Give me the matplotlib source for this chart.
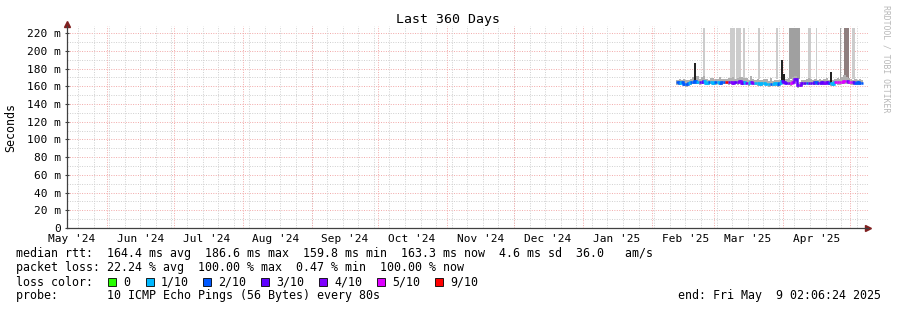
import datetime as dt
import matplotlib
matplotlib.use('Agg')
import matplotlib.pyplot as plt
import matplotlib.dates as mdates
from matplotlib.patches import Rectangle

# time range of the graph
graph_start = dt.datetime(2024, 5, 14, 2, 6, 24)
graph_end = dt.datetime(2025, 5, 9, 2, 6, 24)
data_start = dt.datetime(2025, 2, 12)

# daily median rtt in ms (Feb 12 .. May 6 2025)
medians = [
    164.5, 164, 164.5, 163, 162.5, 164, 164.5, 165, 166, 165, 164.5, 165, 166, 164, 164.5, 165, 164,
    164.5, 165, 164, 164.5, 164.5, 165, 164.5, 165, 164, 165, 164.5, 166, 164, 165, 164, 163.5,
    165, 164, 164, 163.5, 163, 163.5, 164, 163, 162.5, 163, 162, 163.5, 162, 163.5, 166,
    165, 164, 164, 163.5, 165, 168, 161, 161.5, 163.5, 164, 164, 164, 164, 164, 164.5, 164,
    164, 164.5, 164, 164.5, 164, 163.5, 163, 164.5, 164.5, 164.5, 165, 165.5, 166, 165,
    164.5, 164.5, 164, 164.5, 164, 164,
]
# loss class per day, index into loss_labels
loss_class = [
    2, 1, 2, 2, 2, 1, 2, 2, 2, 1, 3, 3, 1, 1, 2, 1, 1,
    2, 1, 2, 2, 2, 6, 3, 4, 4, 3, 4, 4, 3, 1, 4, 1, 4, 4, 1, 1, 1, 1, 1, 1, 1, 2, 1, 1, 2, 1, 3,
    3, 3, 4, 5, 4, 3, 4, 4, 3, 3, 2, 3, 3, 3, 2, 3, 3, 3, 4, 3, 2, 1, 1, 5, 5, 5, 5, 5, 4, 5,
    5, 3, 2, 2, 2, 2,
]
# smoke spread above / below the median (ms)
smoke_up = [
    3, 4, 3, 5, 4, 3, 4, 6, 20, 7, 4, 5, 6, 4, 3, 4, 5,
    4, 3, 7, 4, 4, 3, 5, 4, 6, 3, 5, 4, 7, 4, 5, 4, 7, 4, 3, 5, 4, 3, 4, 5, 3, 6, 4, 3, 5, 4, 24,
    9, 4, 5, 3, 5, 4, 3, 3, 4, 3, 4, 5, 4, 3, 4, 3, 4, 3, 4, 5, 3, 13, 4, 4, 5, 4, 6, 7, 5, 4,
    4, 3, 4, 3, 4, 3,
]
smoke_down = [
    3, 3, 2, 3, 3, 2, 3, 3, 3, 2, 3, 3, 2, 3, 3, 2, 3,
    3, 2, 3, 3, 2, 3, 3, 2, 3, 3, 3, 2, 3, 3, 2, 3, 3, 2, 3, 3, 2, 3, 3, 2, 3, 3, 2, 3, 3, 2, 3,
    3, 2, 3, 3, 2, 3, 3, 2, 3, 3, 2, 3, 3, 2, 3, 3, 2, 3, 3, 2, 3, 3, 3, 2, 3, 3, 2, 3, 3, 2,
    3, 3, 2, 3, 3, 2,
]

# tall smoke bands (start, end, grey shade)
bands = [
    ('2025-02-23 22:00', '2025-02-24 19:00', '#cccccc'),
    ('2025-03-08 01:00', '2025-03-10 07:00', '#cccccc'),
    ('2025-03-10 18:00', '2025-03-13 00:00', '#cccccc'),
    ('2025-03-13 22:00', '2025-03-14 19:00', '#cccccc'),
    ('2025-03-20 15:00', '2025-03-21 12:00', '#cccccc'),
    ('2025-03-28 17:00', '2025-03-29 14:00', '#cccccc'),
    ('2025-04-03 12:00', '2025-04-08 12:00', '#a0a0a0'),
    ('2025-04-12 00:00', '2025-04-13 09:00', '#cccccc'),
    ('2025-04-15 14:00', '2025-04-16 02:00', '#cccccc'),
    ('2025-04-26 10:00', '2025-04-26 20:00', '#a8a8a8'),
    ('2025-04-28 04:00', '2025-04-30 10:00', '#8e7e7e'),
    ('2025-05-01 19:00', '2025-05-03 04:00', '#cccccc'),
]
band_low, band_high = 168, 226

loss_labels = ['0', '1/10', '2/10', '3/10', '4/10', '5/10', '9/10']
loss_colors = ['#26ff00', '#00b8ff', '#0059ff', '#5e00ff', '#7e00ff', '#dd00ff', '#ff0000']

y_ticks = [0, 20, 40, 60, 80, 100, 120, 140, 160, 180, 200, 220]

W, H = 897, 310
fig = plt.figure(figsize=(W / 100, H / 100), dpi=100)
fig.patch.set_facecolor('white')
ax = fig.add_axes([67 / W, 82 / H, 801 / W, 202 / H])
ax.set_xlim(graph_start, graph_end)
ax.set_ylim(0, 228)
for s in ['top', 'right']:
    ax.spines[s].set_visible(False)
for s in ['left', 'bottom']:
    ax.spines[s].set_color('#404040')
    ax.spines[s].set_linewidth(0.9)

mono = 'DejaVu Sans Mono'
grid_dash = (0, (1, 1.5))

# grid lines
ax.set_xticks([])
for m in range(10, 228, 10):
    col = '#f2a8a8' if m % 20 == 0 else '#cfcfcf'
    ax.axhline(m, color=col, lw=0.7, ls=grid_dash, zorder=1)
weeks = mdates.WeekdayLocator(byweekday=mdates.SU).tick_values(graph_start, graph_end)
for w in weeks:
    ax.axvline(w, color='#cfcfcf', lw=0.7, ls=grid_dash, zorder=1)
months = mdates.MonthLocator(bymonthday=1).tick_values(graph_start, graph_end)
for mo in months:
    ax.axvline(mo, color='#f2a8a8', lw=0.7, ls=grid_dash, zorder=3)

# tall bands
for b0, b1, shade in bands:
    t0, t1 = dt.datetime.fromisoformat(b0), dt.datetime.fromisoformat(b1)
    ax.fill_between([t0, t1], band_low, band_high, color=shade, lw=0, zorder=2)

# smoke around median
days = [data_start + dt.timedelta(days=i) for i in range(len(medians) + 1)]
hi = [m + u for m, u in zip(medians, smoke_up)]
lo = [m - d for m, d in zip(medians, smoke_down)]
ax.fill_between(days, lo + [lo[-1]], hi + [hi[-1]], step='post', color='#b0b0b0', lw=0, zorder=2)
for i, (m, h) in enumerate(zip(medians, hi)):
    if h - m > 8:
        t = days[i] + dt.timedelta(hours=12)
        ax.vlines(t, m, h, color='#202020', lw=1.4, zorder=4)

# median line coloured by loss
for i, m in enumerate(medians):
    c = loss_colors[loss_class[i]]
    ax.plot([days[i], days[i + 1]], [m, m], color=c, lw=1.8, solid_capstyle='butt', zorder=5)
    if i + 1 < len(medians):
        ax.plot([days[i + 1], days[i + 1]], [m, medians[i + 1]], color=c, lw=1.8, zorder=5)

# y axis labels
ax.set_yticks(y_ticks)
ax.set_yticklabels([f'{v} m' if v else '0' for v in y_ticks], fontfamily=mono, fontsize=8)
ax.tick_params(axis='y', length=3, direction='inout', color='#404040', pad=3)

# month labels at mid month
mids = mdates.MonthLocator(bymonthday=16).tick_values(graph_start, graph_end)
for md in mids:
    d = mdates.num2date(md).replace(tzinfo=None)
    if graph_start <= d <= graph_end:
        ax.annotate(d.strftime("%b '%y"), (d, 0), xycoords=('data', 'axes fraction'),
                    xytext=(0, -4), textcoords='offset points', ha='center', va='top',
                    fontfamily=mono, fontsize=8)

# axis arrows
ax.plot([1.0], [0], marker='>', color='#802020', ms=4, transform=ax.transAxes, clip_on=False)
ax.plot([0], [1.01], marker='^', color='#802020', ms=4, transform=ax.transAxes, clip_on=False)

fig.text(448 / W, 1 - 20 / H, 'Last 360 Days', ha='center', va='center', fontfamily=mono, fontsize=9.5)
fig.text(11 / W, 1 - 127 / H, 'Seconds', rotation=90, ha='center', va='center', fontfamily=mono, fontsize=8.4)
fig.text(886 / W, 1 - 5 / H, 'RRDTOOL / TOBI OETIKER', rotation=270, ha='center', va='top',
         fontfamily=mono, fontsize=5.9, color='#b8b8b8')

# legend rows
def row(y, s, x=16, ha='left'):
    fig.text(x / W, 1 - y / H, s, ha=ha, va='center', fontfamily=mono, fontsize=8.4)

row(254, 'median rtt:  164.4 ms avg  186.6 ms max  159.8 ms min  163.3 ms now  4.6 ms sd  36.0   am/s')
row(268, 'packet loss: 22.24 % avg  100.00 % max  0.47 % min  100.00 % now')
row(282, 'loss color:')
box_x = [108, 146, 203, 261, 319, 377, 435]
for bx, lab, col in zip(box_x, loss_labels, loss_colors):
    fig.patches.append(Rectangle((bx / W, 1 - 286 / H), 8 / W, 8 / H, transform=fig.transFigure,
                                 facecolor=col, edgecolor='black', lw=0.6))
    row(282, lab, x=bx + 15)
row(296, 'probe:       10 ICMP Echo Pings (56 Bytes) every 80s')
row(296, 'end: Fri May  9 02:06:24 2025', x=881, ha='right')

fig.savefig('out.png', dpi=100)
